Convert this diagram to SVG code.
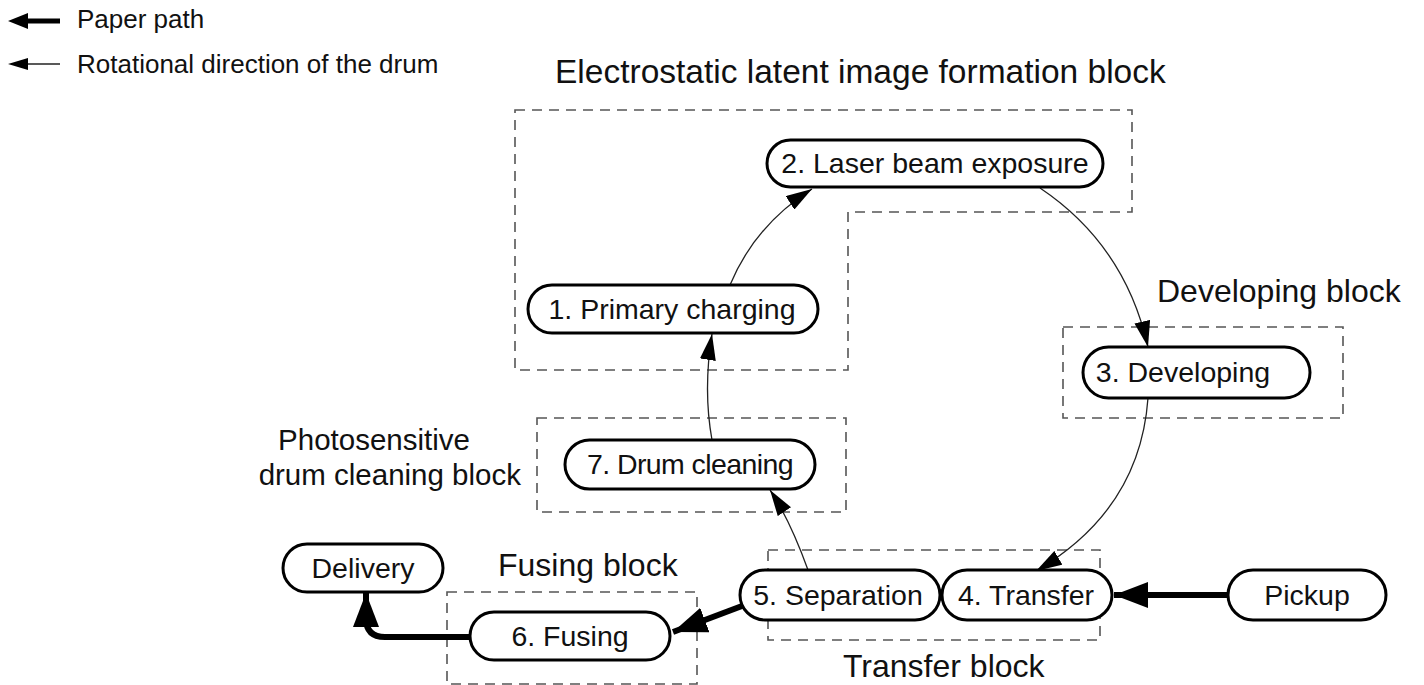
<svg xmlns="http://www.w3.org/2000/svg" width="1424" height="685" viewBox="0 0 1424 685">
<defs>
<style>
.t{font-family:"Liberation Sans",Arial,sans-serif;fill:#111;}
.n{font-size:28.5px;text-anchor:middle;}
.lbl{font-size:32px;}
.ttl{font-size:33.5px;}
.ps{font-size:29.5px;}
.leg{font-size:26px;}
.pill{fill:#fff;stroke:#000;stroke-width:3;}
.blk{fill:none;stroke:#555;stroke-width:1.6;stroke-dasharray:10 7;}
.thin{fill:none;stroke:#222;stroke-width:1.3;marker-end:url(#ah);}
.thick{fill:none;stroke:#000;stroke-width:6;marker-end:url(#AH);}
</style>
<marker id="ah" markerUnits="userSpaceOnUse" markerWidth="28" markerHeight="16" refX="26" refY="8" orient="auto">
<path d="M0,0 L26,8 L0,16 Z" fill="#000"/>
</marker>
<marker id="AH" markerUnits="userSpaceOnUse" markerWidth="36" markerHeight="26" refX="34" refY="13" orient="auto">
<path d="M0,0 L34,13 L0,26 Z" fill="#000"/>
</marker>
</defs>
<rect width="1424" height="685" fill="#fff"/>

<g id="legend">
<path d="M60 21 L26 21" stroke="#000" stroke-width="5" fill="none"/>
<path d="M8 21 L28 13 L28 29 Z" fill="#000"/>
<text class="t leg" x="77" y="28">Paper path</text>
<path d="M60 64 L26 64" stroke="#222" stroke-width="1.3" fill="none"/>
<path d="M8 64 L28 58 L28 70 Z" fill="#000"/>
<text class="t leg" x="77" y="73">Rotational direction of the drum</text>
</g>

<g id="blocks">
<path class="blk" d="M515 110 H1132 V212 H848 V370 H515 Z"/>
<rect class="blk" x="1063" y="327" width="280" height="91"/>
<rect class="blk" x="537" y="418" width="309" height="94"/>
<rect class="blk" x="768" y="550" width="332" height="90"/>
<rect class="blk" x="447" y="592" width="250" height="92"/>
</g>

<g id="block-labels">
<text class="t ttl" x="555" y="83">Electrostatic latent image formation block</text>
<text class="t lbl" x="1157" y="302">Developing block</text>
<text class="t ps" x="374" y="450" text-anchor="middle">Photosensitive</text>
<text class="t ps" x="521" y="485" text-anchor="end">drum cleaning block</text>
<text class="t lbl" x="498" y="576">Fusing block</text>
<text class="t lbl" x="843" y="677">Transfer block</text>
</g>

<g id="connectors">
<path class="thin" d="M730 285 Q755 225 812 189"/>
<path class="thin" d="M1040 188 Q1125 245 1148 347"/>
<path class="thin" d="M1148 398 Q1140 510 1036 571"/>
<path class="thin" d="M808 570 Q790 520 770 490"/>
<path class="thin" d="M712 440 Q703 390 712 334"/>
<path class="thick" d="M1228 595 L1114 595"/>
<path class="thick" d="M742 606 L673 632"/>
<path class="thick" d="M470 637 L385 637 Q366 637 366 618 L366 593"/>
</g>

<g id="n2"><rect class="pill" x="767" y="140" width="336" height="47" rx="23.5"/><text class="t n" x="935" y="173">2. Laser beam exposure</text></g>
<g id="n1"><rect class="pill" x="528" y="285" width="290" height="48" rx="24"/><text class="t n" x="672" y="319">1. Primary charging</text></g>
<g id="n3"><rect class="pill" x="1083" y="347" width="227" height="51" rx="25.5"/><text class="t n" x="1183" y="382">3. Developing</text></g>
<g id="n7"><rect class="pill" x="565" y="440" width="250" height="49" rx="24.5"/><text class="t n" x="690" y="474" letter-spacing="-0.6">7. Drum cleaning</text></g>
<g id="n5"><rect class="pill" x="740" y="570" width="200" height="50" rx="25"/><text class="t n" x="838" y="605">5. Separation</text></g>
<g id="n4"><rect class="pill" x="942" y="570" width="170" height="50" rx="25"/><text class="t n" x="1026" y="605">4. Transfer</text></g>
<g id="pickup"><rect class="pill" x="1228" y="570" width="158" height="50" rx="25"/><text class="t n" x="1307" y="605">Pickup</text></g>
<g id="delivery"><rect class="pill" x="283" y="544" width="160" height="48" rx="24"/><text class="t n" x="363" y="578">Delivery</text></g>
<g id="n6"><rect class="pill" x="470" y="612" width="200" height="48" rx="24"/><text class="t n" x="570" y="646">6. Fusing</text></g>
</svg>
